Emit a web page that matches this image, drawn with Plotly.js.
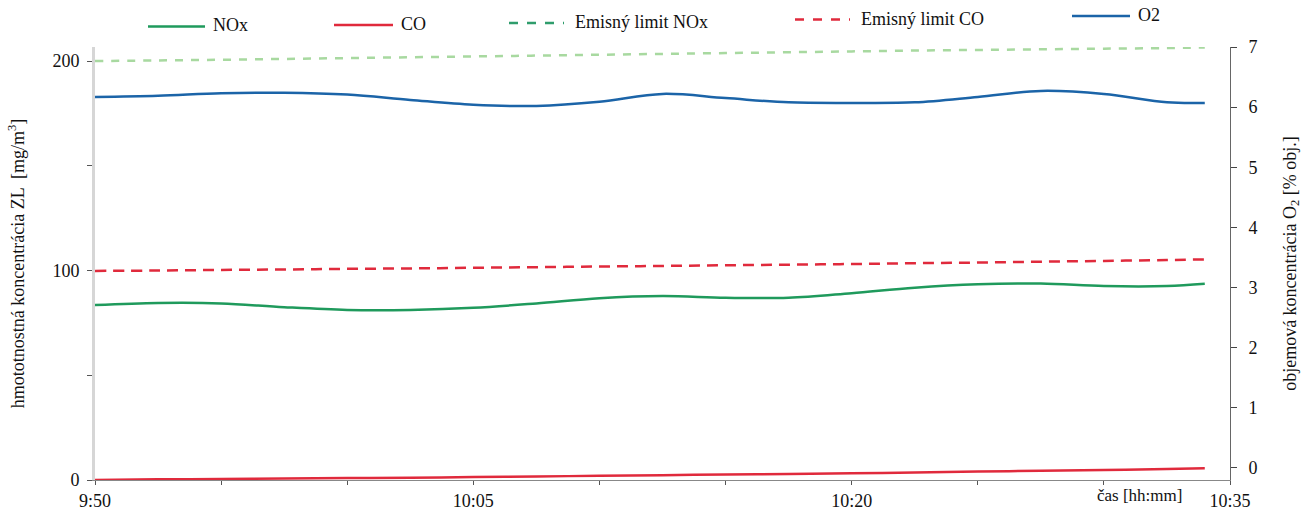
<!DOCTYPE html>
<html>
<head>
<meta charset="utf-8">
<script src="https://cdn.plot.ly/plotly-3.0.1.min.js"></script>
<style>
  html, body { margin: 0; padding: 0; background: #ffffff; }
  #chart { width: 1307px; height: 516px; }
</style>
</head>
<body>
<div id="chart"></div>
<script>
// ---- data ----
const times = [
  "2020-01-01 09:50:00", "2020-01-01 09:52:30", "2020-01-01 09:55:00", "2020-01-01 09:57:30",
  "2020-01-01 10:00:00", "2020-01-01 10:02:30", "2020-01-01 10:05:00", "2020-01-01 10:07:30",
  "2020-01-01 10:10:00", "2020-01-01 10:12:30", "2020-01-01 10:15:00", "2020-01-01 10:17:30",
  "2020-01-01 10:20:00", "2020-01-01 10:22:30", "2020-01-01 10:25:00", "2020-01-01 10:27:30",
  "2020-01-01 10:30:00", "2020-01-01 10:32:30", "2020-01-01 10:34:00"
];
const nox = [83.5, 84.5, 84.3, 82.5, 81.2, 81.2, 82.2, 84.3, 86.8, 87.8, 87.0, 87.0, 89.2, 91.8, 93.4, 93.8, 92.6, 92.6, 93.7];
const co = [0.0, 0.3, 0.5, 0.7, 0.9, 1.1, 1.4, 1.7, 2.0, 2.3, 2.6, 2.9, 3.2, 3.6, 4.0, 4.4, 4.8, 5.2, 5.6];
const noxLimit = [200.0, 200.3, 200.6, 201.0, 201.4, 201.8, 202.2, 202.6, 203.0, 203.4, 203.8, 204.2, 204.6, 205.0, 205.3, 205.6, 205.9, 206.2, 206.5];
const coLimit = [99.8, 100.0, 100.3, 100.5, 100.8, 101.0, 101.3, 101.6, 101.9, 102.2, 102.5, 102.8, 103.1, 103.5, 103.8, 104.2, 104.6, 105.0, 105.3];
const o2 = [6.17, 6.19, 6.23, 6.24, 6.21, 6.12, 6.04, 6.02, 6.09, 6.22, 6.15, 6.08, 6.07, 6.08, 6.17, 6.27, 6.22, 6.08, 6.07];

const xTickVals = ["2020-01-01 09:50", "2020-01-01 10:05", "2020-01-01 10:20", "2020-01-01 10:35"];
const xTickText = ["9:50", "10:05", "10:20", "10:35"];
const yLeftTickVals = [0, 100, 200];
const yLeftTickText = ["0", "100", "200"];
const yRightTickVals = [0, 1, 2, 3, 4, 5, 6, 7];

const legendNames = ["NOx", "CO", "Emisný limit NOx", "Emisný limit CO", "O2"];

// ---- styles ----
const FONT = "Liberation Serif";
const cGreen = "#1f9a5c";
const cRed = "#e02a3c";
const cBlue = "#1b64a8";
const cLimitNox = "#a8d9a0";
const cLegendNoxLimit = "#2f9d6c";

const traces = [
  { x: times, y: noxLimit, name: legendNames[2], mode: "lines", yaxis: "y",
    line: { color: cLimitNox, width: 2.5, dash: "8px,8px", shape: "spline" }, showlegend: false },
  { x: times, y: coLimit, name: legendNames[3], mode: "lines", yaxis: "y",
    line: { color: cRed, width: 2.5, dash: "11px,7px", shape: "spline" }, showlegend: false },
  { x: times, y: nox, name: legendNames[0], mode: "lines", yaxis: "y",
    line: { color: cGreen, width: 2.5, shape: "spline", smoothing: 1 }, showlegend: false },
  { x: times, y: co, name: legendNames[1], mode: "lines", yaxis: "y",
    line: { color: cRed, width: 2.5, shape: "spline" }, showlegend: false },
  { x: times, y: o2, name: legendNames[4], mode: "lines", yaxis: "y2",
    line: { color: cBlue, width: 2.5, shape: "spline", smoothing: 1 }, showlegend: false }
];

// custom legend (line samples + real text), positioned in pixels
const W = 1307, H = 516, L = 95, R = 77, T = 47, B = 36;
const pw = W - L - R, ph = H - T - B;
const px = v => (v - L) / pw;
const py = v => (H - B - v) / ph;

const legendItems = [
  { x0: 148, x1: 205, y: 26.5, tx: 211, color: cGreen, dash: "solid" },
  { x0: 334, x1: 393, y: 25, tx: 399, color: cRed, dash: "solid" },
  { x0: 509, x1: 564, y: 23, tx: 573, color: cLegendNoxLimit, dash: "dash" },
  { x0: 795, x1: 850, y: 19.5, tx: 859, color: cRed, dash: "dash" },
  { x0: 1072, x1: 1130, y: 16, tx: 1136, color: cBlue, dash: "solid" }
];

const shapes = legendItems.map(it => ({
  type: "line", xref: "paper", yref: "paper",
  x0: px(it.x0), x1: px(it.x1), y0: py(it.y), y1: py(it.y),
  line: { color: it.color, width: 2.5, dash: it.dash }
}));

const annotations = legendItems.map((it, i) => ({
  xref: "paper", yref: "paper", x: px(it.tx), y: py(it.y - 1),
  xanchor: "left", yanchor: "middle", showarrow: false,
  text: legendNames[i], font: { family: FONT, size: 18, color: "#111" }
}));

annotations.push({
  xref: "paper", yref: "paper", x: px(1139), y: py(495),
  xanchor: "center", yanchor: "middle", showarrow: false,
  text: "čas [hh:mm]",
  font: { family: FONT, size: 17, color: "#111" }
});

const layout = {
  width: W, height: H,
  margin: { l: L, r: R, t: T, b: B, pad: 0 },
  paper_bgcolor: "#ffffff", plot_bgcolor: "#ffffff",
  showlegend: false,
  font: { family: FONT, size: 18, color: "#111" },
  xaxis: {
    type: "date",
    range: ["2020-01-01 09:50", "2020-01-01 10:35"],
    tickvals: xTickVals, ticktext: xTickText,
    showgrid: false, zeroline: false,
    showline: true, linecolor: "#888", linewidth: 1,
    ticks: "outside", ticklen: 4, tickcolor: "#555",
    minor: { dtick: 5 * 60000, tick0: "2020-01-01 09:50", ticks: "outside", ticklen: 4, tickcolor: "#555", showgrid: false },
    tickfont: { family: FONT, size: 18, color: "#111" }
  },
  yaxis: {
    range: [0, 206.7],
    tickvals: yLeftTickVals, ticktext: yLeftTickText,
    showgrid: false, zeroline: false,
    showline: true, linecolor: "#d6d6d6", linewidth: 3,
    ticks: "outside", ticklen: 5, tickcolor: "#555",
    minor: { dtick: 50, tick0: 0, ticks: "outside", ticklen: 5, tickcolor: "#555", showgrid: false },
    ticklabelstandoff: 4,
    tickfont: { family: FONT, size: 18, color: "#111" },
    title: { text: "hmototnostná koncentrácia ZL  [mg/m<sup>3</sup>]", standoff: 24,
             font: { family: FONT, size: 18, color: "#111" } }
  },
  yaxis2: {
    overlaying: "y", side: "right",
    range: [-0.2, 7],
    tickvals: yRightTickVals,
    showgrid: false, zeroline: false,
    showline: true, linecolor: "#666", linewidth: 1,
    ticks: "outside", ticklen: 6, tickcolor: "#444",
    ticklabelstandoff: 8,
    tickfont: { family: FONT, size: 18, color: "#111" },
    title: { text: "objemová koncentrácia O<sub>2</sub> [% obj.]", standoff: 26,
             font: { family: FONT, size: 18, color: "#111" } }
  },
  shapes: shapes,
  annotations: annotations
};

Plotly.newPlot("chart", traces, layout, { displayModeBar: false, staticPlot: true });
</script>
</body>
</html>
